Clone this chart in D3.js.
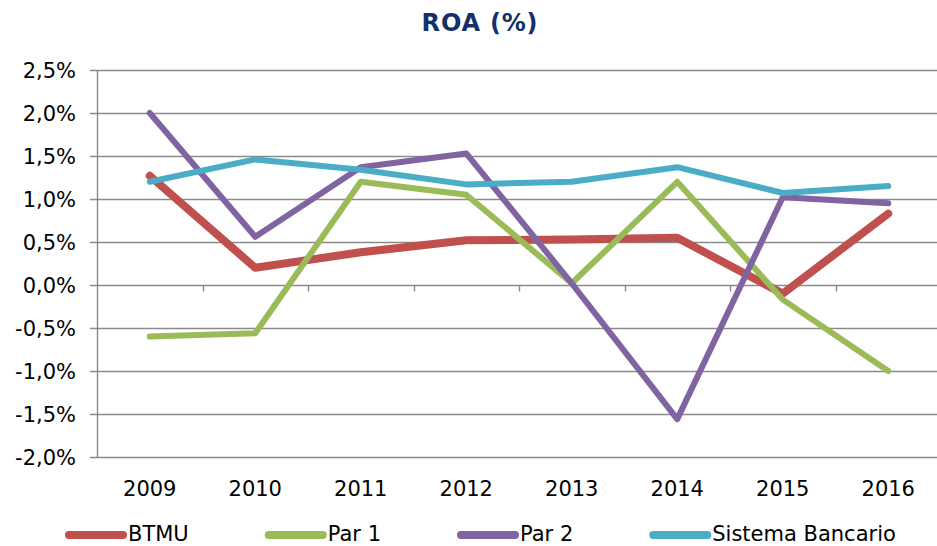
<!DOCTYPE html>
<html>
<head>
<meta charset="utf-8">
<script src="https://cdn.jsdelivr.net/npm/d3@7"></script>
<style>
  body { margin: 0; background: #fff; }
  svg { display: block; font-family: "DejaVu Sans", Verdana, sans-serif; }
</style>
</head>
<body>
<svg></svg>
<script>
// Data (ROA, %)
const years = ["2009", "2010", "2011", "2012", "2013", "2014", "2015", "2016"];
const btmu = [1.27, 0.20, 0.38, 0.52, 0.53, 0.55, -0.10, 0.83];
const par1 = [-0.60, -0.56, 1.20, 1.05, 0.02, 1.20, -0.17, -1.00];
const par2 = [2.00, 0.56, 1.37, 1.53, 0.02, -1.56, 1.02, 0.95];
const sistema = [1.20, 1.46, 1.34, 1.17, 1.20, 1.37, 1.07, 1.15];
const yTicks = [-2.0, -1.5, -1.0, -0.5, 0.0, 0.5, 1.0, 1.5, 2.0, 2.5];

const series = [
    { name: "BTMU", values: btmu, color: "#C0504D", width: 8 },
    { name: "Par 1", values: par1, color: "#9BBB59", width: 6 },
    { name: "Par 2", values: par2, color: "#8064A2", width: 6 },
    { name: "Sistema Bancario", values: sistema, color: "#4BACC6", width: 6 }
];

const width = 937;
const height = 546;

const svg = d3.select("svg")
    .attr("width", width)
    .attr("height", height);

// scales
const xScale = d3.scaleBand()
    .domain(years)
    .range([97, 941])
    .padding(0);

const yScale = d3.scaleLinear()
    .domain([-2, 2.5])
    .range([457, 70]);

const fmt = v => d3.format(".1f")(v).replace(".", ",").replace("−", "-") + "%";

// title
svg.append("text")
    .attr("x", 480)
    .attr("y", 31)
    .attr("text-anchor", "middle")
    .attr("font-size", "24px")
    .attr("font-weight", "bold")
    .attr("letter-spacing", "0.8px")
    .attr("fill", "#14306A")
    .text("ROA (%)");

// gridlines
svg.append("g")
    .selectAll("line")
    .data(yTicks)
    .enter()
    .append("line")
    .attr("x1", 90)
    .attr("x2", width)
    .attr("y1", d => Math.round(yScale(d)) + 0.5)
    .attr("y2", d => Math.round(yScale(d)) + 0.5)
    .attr("stroke", "#8a8a8a")
    .attr("stroke-width", 1.4);

// y axis line
svg.append("line")
    .attr("x1", 97.5).attr("x2", 97.5)
    .attr("y1", yScale(2.5)).attr("y2", Math.round(yScale(-2)) + 1)
    .attr("stroke", "#8a8a8a")
    .attr("stroke-width", 1.4);

// y labels
svg.append("g")
    .selectAll("text")
    .data(yTicks)
    .enter()
    .append("text")
    .attr("x", 76)
    .attr("y", d => yScale(d))
    .attr("dy", "0.36em")
    .attr("text-anchor", "end")
    .attr("font-size", "21px")
    .attr("fill", "#000")
    .text(fmt);

// category ticks on the zero line
const y0 = Math.round(yScale(0)) + 0.5;
svg.append("g")
    .selectAll("line")
    .data(years.slice(1))
    .enter()
    .append("line")
    .attr("x1", d => Math.round(xScale(d)) + 0.5)
    .attr("x2", d => Math.round(xScale(d)) + 0.5)
    .attr("y1", y0)
    .attr("y2", y0 + 6)
    .attr("stroke", "#8a8a8a")
    .attr("stroke-width", 1.4);

// x labels
svg.append("g")
    .selectAll("text")
    .data(years)
    .enter()
    .append("text")
    .attr("x", d => xScale(d) + xScale.bandwidth() / 2)
    .attr("y", 496)
    .attr("text-anchor", "middle")
    .attr("font-size", "21px")
    .attr("fill", "#000")
    .text(d => d);

// lines
const lineGenerator = d3.line()
    .x((d, i) => xScale(years[i]) + xScale.bandwidth() / 2)
    .y(d => yScale(d));

svg.append("g")
    .selectAll("path")
    .data(series)
    .enter()
    .append("path")
    .attr("fill", "none")
    .attr("stroke", d => d.color)
    .attr("stroke-width", d => d.width)
    .attr("stroke-linecap", "round")
    .attr("stroke-linejoin", "round")
    .attr("d", d => lineGenerator(d.values));

// legend
const legend = svg.append("g");
let lx = 65;
const ly = 535;
series.forEach(s => {
    legend.append("line")
        .attr("x1", lx + 4).attr("x2", lx + 58)
        .attr("y1", ly).attr("y2", ly)
        .attr("stroke", s.color)
        .attr("stroke-width", 8)
        .attr("stroke-linecap", "round");
    const t = legend.append("text")
        .attr("x", lx + 63)
        .attr("y", 541)
        .attr("font-size", "21px")
        .attr("fill", "#000")
        .text(s.name);
    lx += 63 + t.node().getComputedTextLength() + 76;
});
</script>
</body>
</html>
